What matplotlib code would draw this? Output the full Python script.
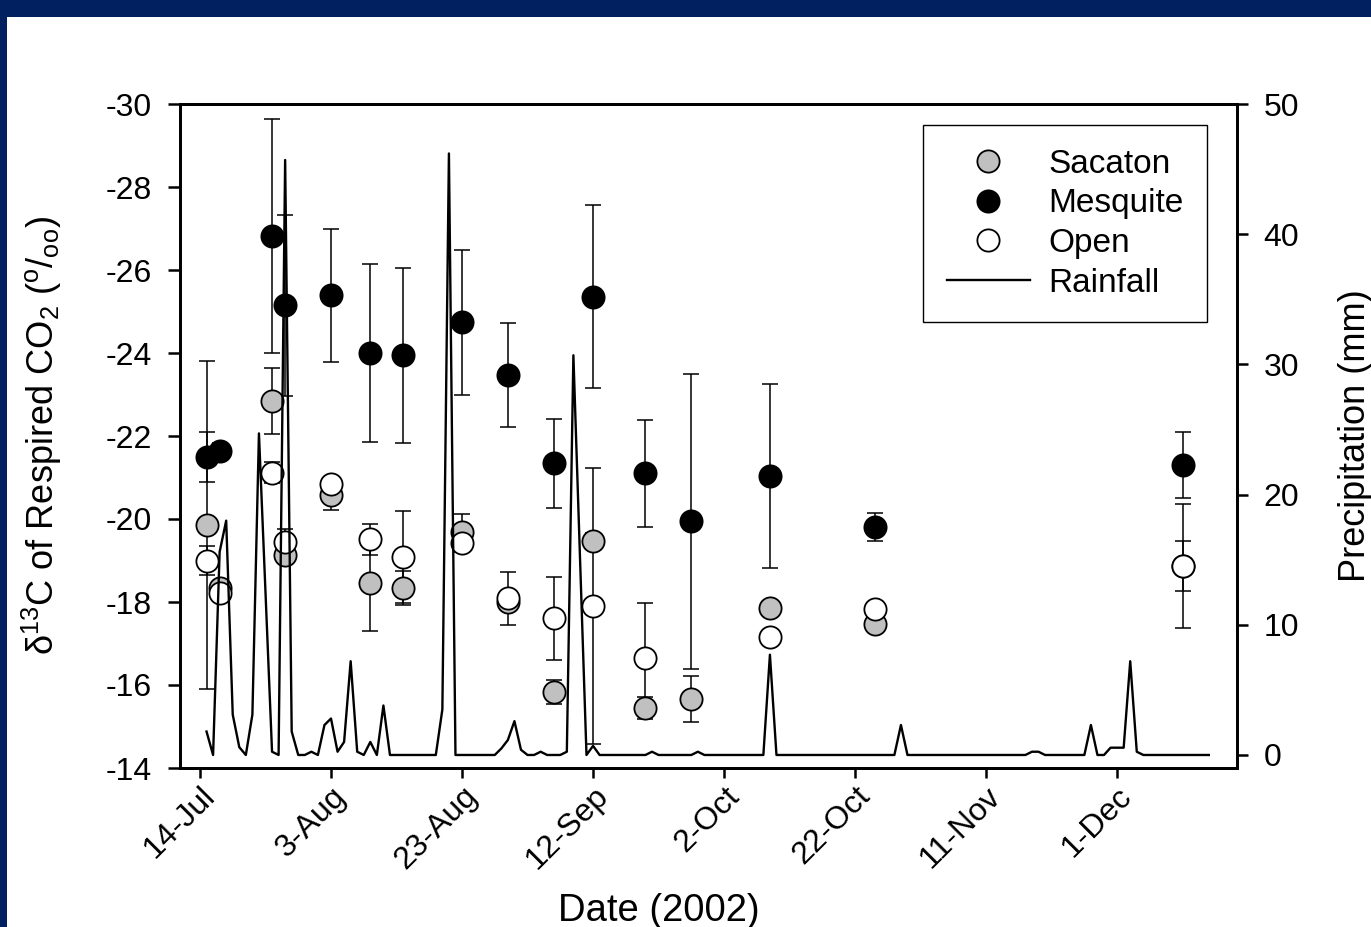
import matplotlib
matplotlib.use("Agg")
import numpy as np
import matplotlib.pyplot as plt
import matplotlib.transforms as mtransforms
from matplotlib.patches import Rectangle

plt.rcParams["font.family"] = ["Liberation Sans", "DejaVu Sans"]
plt.rcParams["mathtext.fontset"] = "custom"
plt.rcParams["mathtext.rm"] = "Liberation Sans"
plt.rcParams["mathtext.it"] = "Liberation Sans:italic"
plt.rcParams["axes.unicode_minus"] = False

# sampling dates, days after 14-Jul-2002
sample_day = [1, 3, 11, 13, 20, 26, 31, 40, 47, 54, 60, 68, 75, 87, 103, 150]

sacaton = [-19.85, -18.33, -22.84, -19.13, -20.58, -18.45, -18.33, -19.69,
           -18.01, -15.84, -19.47, -15.45, -15.66, -17.86, -17.47, -18.87]
sacaton_err = [3.95, 0.1, 0.8, 0.1, 0.36, 1.16, 0.41, 0.43,
               0.2, 0.29, 0.2, 0.27, 0.55, 0.1, 0.1, 0.6]

mesquite = [-21.5, -21.64, -26.83, -25.15, -25.39, -24.0, -23.94, -24.74,
            -23.47, -21.34, -25.36, -21.1, -19.94, -21.04, -19.81, -21.3]
mesquite_err = [0.6, 0.2, 2.82, 2.18, 1.61, 2.15, 2.1, 1.74,
                1.26, 1.07, 2.2, 1.29, 3.55, 2.22, 0.34, 0.8]

open_site = [-19.0, -18.22, -21.12, -19.45, -20.85, -19.51, -19.09, -19.41,
             -18.09, -17.61, -17.9, -16.64, np.nan, -17.15, -17.82, -18.87]
open_err = [0.35, 0.1, 0.25, 0.3, 0.1, 0.38, 1.11, 0.2,
            0.64, 1.0, 3.33, 1.33, np.nan, 0.1, 0.1, 1.5]

# rainfall (mm), days after 14-Jul-2002
rain_day = [1, 2, 3, 4, 5, 6, 7, 8, 9, 10, 11, 12, 13, 14, 15, 16, 17, 18,
            19, 20, 21, 22, 23, 24, 25, 26, 27, 28, 29, 36, 37, 38, 39, 45,
            46, 47, 48, 49, 50, 51, 52, 53, 55, 56, 57, 58, 59, 60, 61, 68,
            69, 70, 75, 76, 77, 86, 87, 88, 106, 107, 108, 126, 127, 128, 129,
            135, 136, 137, 138, 139, 141, 142, 143, 144, 154]
rain_mm = [1.8, 0, 15.6, 18.0, 3.1, 0.6, 0, 3.1, 24.7, 12.5, 0.25, 0, 45.7,
           1.8, 0, 0, 0.25, 0, 2.3, 2.8, 0.25, 1.0, 7.2, 0.25, 0, 1.0, 0, 3.8,
           0, 0, 3.5, 46.2, 0, 0, 0.5, 1.15, 2.6, 0.4, 0, 0, 0.25, 0, 0, 0.25,
           30.7, 15.3, 0, 0.7, 0, 0, 0.25, 0, 0, 0.25, 0, 0, 7.7, 0, 0, 2.3, 0,
           0, 0.25, 0.25, 0, 0, 2.3, 0, 0, 0.56, 0.56, 7.2, 0.25, 0, 0]

tick_days = [0, 20, 40, 60, 80, 100, 120, 140]
tick_labels = ["14-Jul", "3-Aug", "23-Aug", "12-Sep", "2-Oct", "22-Oct",
               "11-Nov", "1-Dec"]

W, H = 1371, 927
fig = plt.figure(figsize=(W / 100, H / 100), dpi=100)
fig.patch.set_facecolor("#002060")
fig.add_artist(Rectangle((7 / W, 0), 1, (H - 17) / H, transform=fig.transFigure,
                         facecolor="white", edgecolor="none", zorder=-10))

ax = fig.add_axes([180 / W, (H - 768) / H, (1237 - 180) / W, (768 - 104) / H])
ax.set_facecolor("none")

ms = 16
series = [
    ("Sacaton", sacaton, sacaton_err, "#c0c0c0"),
    ("Mesquite", mesquite, mesquite_err, "black"),
    ("Open", open_site, open_err, "white"),
]
handles = []
for name, vals, err, col in series:
    ax.errorbar(sample_day, vals, yerr=err, fmt="none", ecolor="black",
                elinewidth=1.1, capsize=5.5, capthick=1.1, zorder=2)
for name, vals, err, col in series:
    h, = ax.plot(sample_day, vals, "o", ms=ms, mfc=col, mec="black",
                 mew=1.3, label=name, zorder=3)
    handles.append(h)

ax.set_xlim(-3.05, 158.3)
ax.set_ylim(-14, -30)
ax.set_yticks(range(-30, -13, 2))
ax.set_xticks(tick_days)
ax.set_xticklabels(tick_labels, rotation=45, ha="right", va="top",
                   rotation_mode="anchor")
shift = mtransforms.ScaledTranslation(6 / 100, 7 / 100, fig.dpi_scale_trans)
for lab in ax.get_xticklabels():
    lab.set_transform(lab.get_transform() + shift)

ax2 = ax.twinx()
rh, = ax2.plot(rain_day, rain_mm, color="black", lw=1.7, label="Rainfall",
               zorder=4)
handles.append(rh)
ax2.set_ylim(-1, 50)
ax2.set_yticks(range(0, 51, 10))

for a in (ax, ax2):
    for s in a.spines.values():
        s.set_linewidth(2.0)
ax.tick_params(axis="y", direction="out", length=8.5, width=1.8,
               labelsize=23, pad=12)
ax.tick_params(axis="x", direction="out", length=7.5, width=1.8,
               labelsize=23, pad=2)
ax2.tick_params(axis="y", direction="out", length=8, width=1.8,
                labelsize=23, pad=11)

ax.set_ylabel("δ$^{13}$C of Respired CO$_2$ ($^{\\mathrm{o}}$/$_{\\mathrm{oo}}$)",
              fontsize=26)
ax.yaxis.set_label_coords(-0.11, 0.5)
ax.set_xlabel("Date (2002)", fontsize=27.5)
ax.xaxis.set_label_coords(0.453, -0.188)
ax2.set_ylabel("Precipitation (mm)", fontsize=26)
ax2.yaxis.set_label_coords(1.0956, 0.5)

leg = ax2.legend(handles=handles, loc="upper right",
                 bbox_to_anchor=(0.9716, 0.968), borderaxespad=0,
                 fontsize=24, handlelength=2.5, handletextpad=0.55,
                 labelspacing=0.26, borderpad=0.7, fancybox=False,
                 edgecolor="black", framealpha=1)
leg.get_frame().set_linewidth(1.0)

fig.savefig("out.png", dpi=100, facecolor=fig.get_facecolor())
